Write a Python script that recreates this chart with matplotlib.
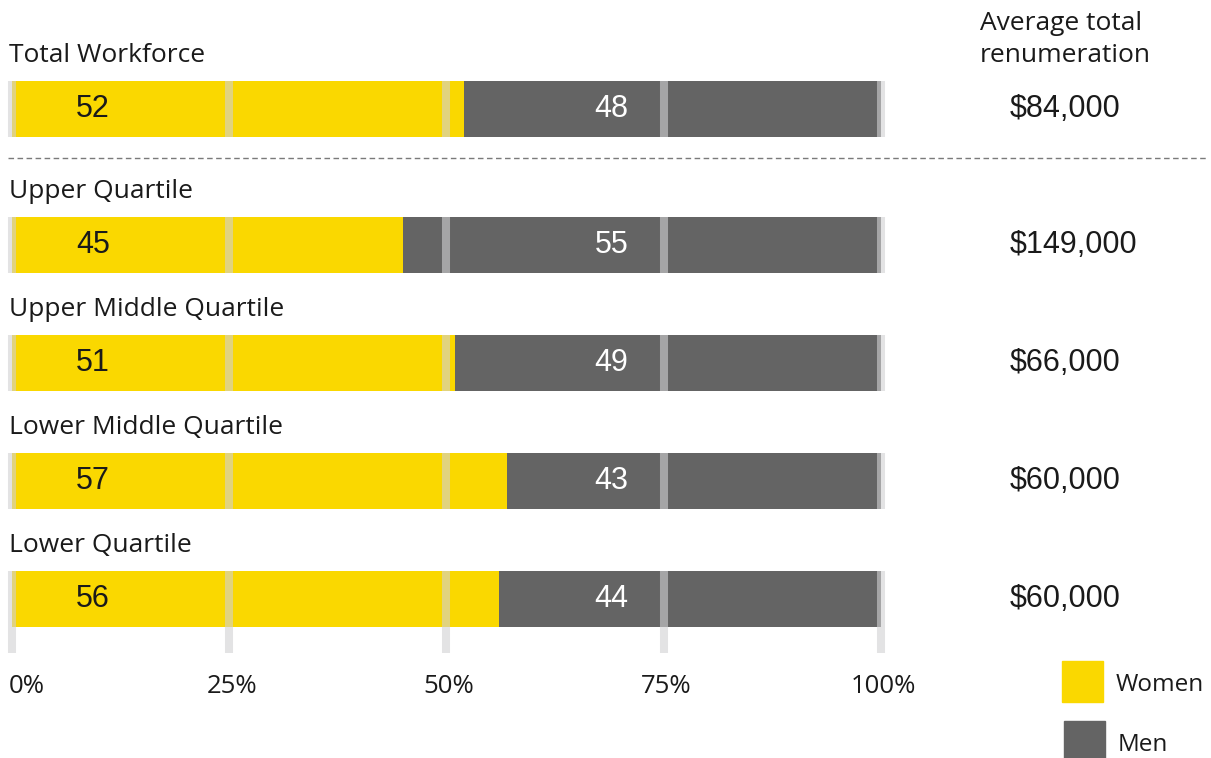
import matplotlib.pyplot as plt
import matplotlib.patches as mpatches
import numpy as np

# data
categories = ['Total Workforce', 'Upper Quartile', 'Upper Middle Quartile',
              'Lower Middle Quartile', 'Lower Quartile']
women = [52, 45, 51, 57, 56]
men = [48, 55, 49, 43, 44]
pay_labels = ['$84,000', '$149,000', '$66,000', '$60,000', '$60,000']
tick_values = [0, 25, 50, 75, 100]
tick_labels = ['0%', '25%', '50%', '75%', '100%']

YELLOW = '#FAD800'
GREY = '#646464'
GRID = '#D1D1D3'
LABEL_FONT = ['Open Sans', 'DejaVu Sans']
NUM_FONT = ['Liberation Sans Narrow', 'Liberation Sans', 'DejaVu Sans']
TXT = '#1a1a1a'

W, H = 1211, 758
fig = plt.figure(figsize=(W / 100, H / 100), dpi=100)
ax = fig.add_axes([0, 0, 1, 1])

# map axes so that 0..100 spans the bar area and one row = 118 px
px = 8.69
row = 118
ax.set_xlim(-12 / px, (W - 12) / px)
ax.set_ylim((H - 109) / row, -109 / row)
ax.axis('off')

idx = np.arange(len(categories))
ypos = idx + np.where(idx > 0, 0.153, 0)
bh = 56 / row

ax.barh(ypos, women, height=bh, color=YELLOW, zorder=1)
ax.barh(ypos, men, left=women, height=bh, color=GREY, zorder=1)

# grid bands only inside the bars, plus stubs under the last bar
for y in ypos:
    ax.vlines(tick_values, y - bh / 2, y + bh / 2, color=GRID, alpha=0.6,
              lw=5.8, zorder=2)
ax.vlines(tick_values, ypos[-1] + bh / 2, 4.61, color=GRID, alpha=0.6,
          lw=5.8, zorder=2)

for y, cat, w, m, pay in zip(ypos, categories, women, men, pay_labels):
    ax.text(-0.35, y - 0.45, cat, ha='left', va='center', fontsize=19,
            family=LABEL_FONT, color=TXT)
    ax.text(9.3, y, str(w), ha='center', va='center', fontsize=22,
            family=NUM_FONT, color=TXT, zorder=3)
    ax.text(69, y, str(m), ha='center', va='center', fontsize=22,
            family=NUM_FONT, color='white', zorder=3)
    ax.text(114.8, y, pay, ha='left', va='center', fontsize=22,
            family=NUM_FONT, color=TXT)

# dashed separator below total workforce
ax.plot([-0.46, 137.6], [0.415, 0.415], color='#7a7a7a', lw=1,
        ls=(0, (4, 2.5)))

for v, lab in zip(tick_values, tick_labels):
    if v == 0:
        ax.text(-0.35, 4.89, lab, ha='left', va='center', fontsize=18.5,
                family=LABEL_FONT, color=TXT)
    else:
        ax.text(v + 0.3, 4.89, lab, ha='center', va='center', fontsize=18.5,
                family=LABEL_FONT, color=TXT)

# header on the right
fig.text(980 / W, 1 - 24 / H, 'Average total', ha='left', va='center',
         fontsize=19, family=LABEL_FONT, color=TXT)
fig.text(980 / W, 1 - 55 / H, 'renumeration', ha='left', va='center',
         fontsize=19, family=LABEL_FONT, color=TXT)

# legend
fig.patches.append(mpatches.Rectangle((1062 / W, 1 - 702 / H), 41 / W, 41 / H,
                                      color=YELLOW, transform=fig.transFigure))
fig.patches.append(mpatches.Rectangle((1064 / W, 1 - 762 / H), 41 / W, 41 / H,
                                      color=GREY, transform=fig.transFigure))
fig.text(1116 / W, 1 - 685 / H, 'Women', ha='left', va='center',
         fontsize=17.5, family=LABEL_FONT, color=TXT)
fig.text(1118 / W, 1 - 745 / H, 'Men', ha='left', va='center',
         fontsize=17.5, family=LABEL_FONT, color=TXT)

fig.savefig('out.png', dpi=100)
